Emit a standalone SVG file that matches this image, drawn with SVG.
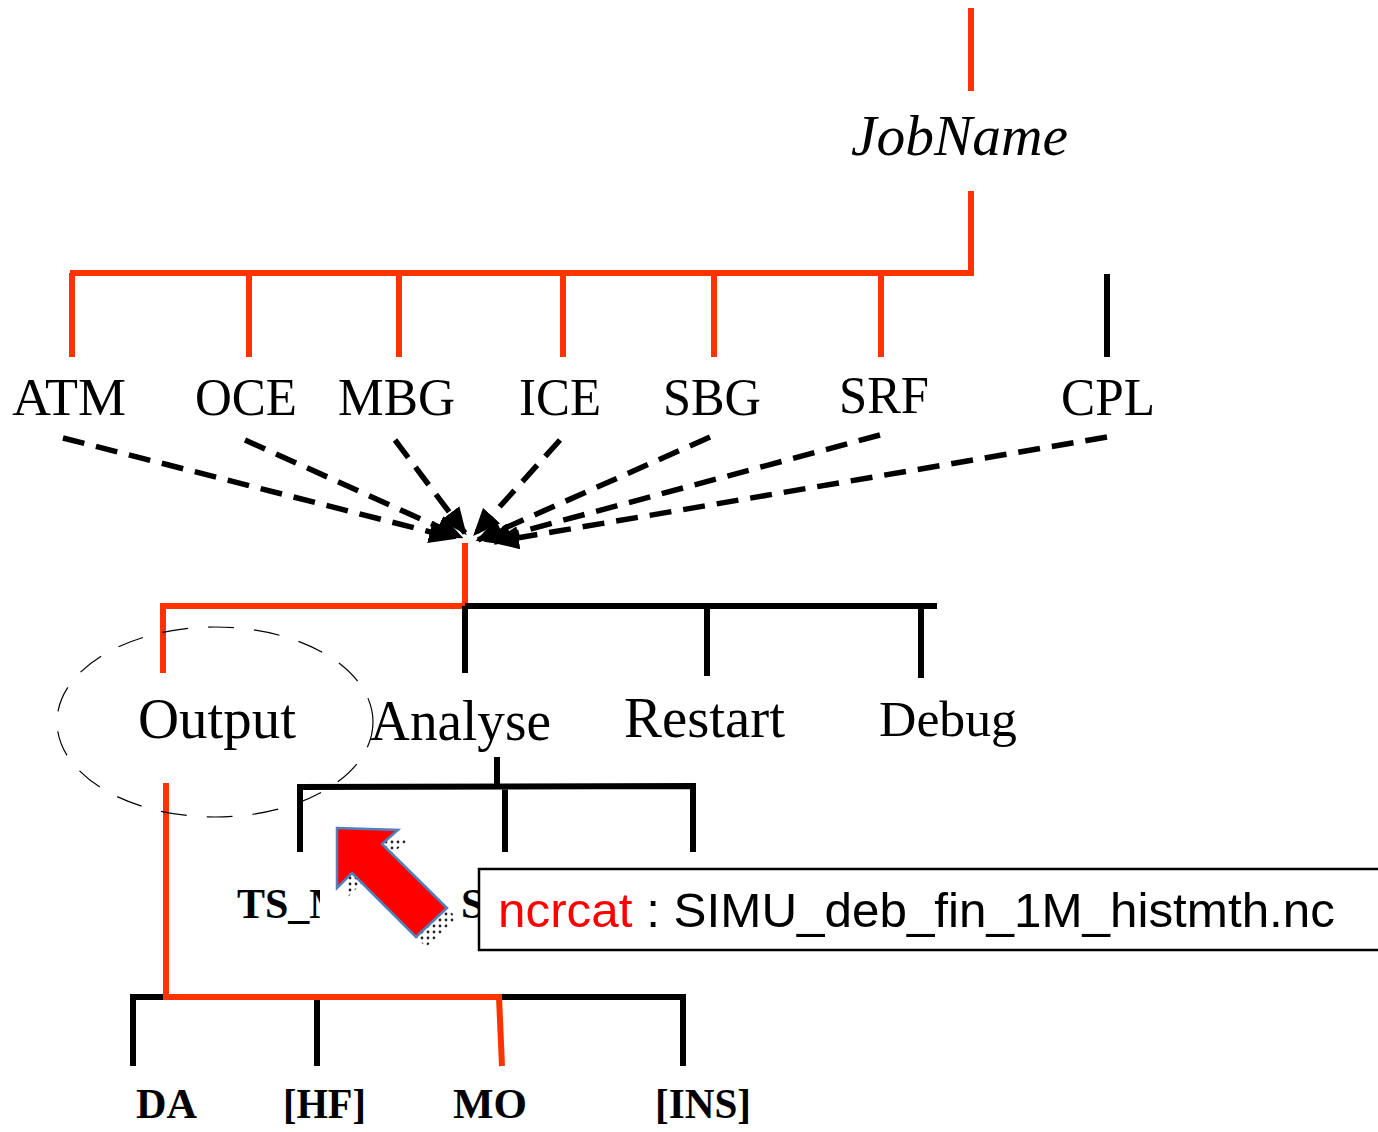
<svg xmlns="http://www.w3.org/2000/svg" width="1378" height="1132" viewBox="0 0 1378 1132">
<style>
.r{stroke:#FF3300;stroke-width:6;fill:none;stroke-linecap:butt}
.k{stroke:#000;stroke-width:6;fill:none}
.d{stroke:#000;stroke-width:5.5;fill:none;stroke-dasharray:22 12}
.t{font-family:"Liberation Serif","Times New Roman",serif;fill:#000}
.b{font-family:"Liberation Serif","Times New Roman",serif;font-weight:bold;font-size:42px;fill:#000}
</style>
<defs>
<marker id="ah" viewBox="0 0 10 10" refX="9" refY="5" markerWidth="5" markerHeight="4.2" orient="auto" markerUnits="strokeWidth" preserveAspectRatio="none">
<path d="M0,0 L10,5 L0,10 z" fill="#000"/>
</marker>
<pattern id="dots" width="6" height="6" patternUnits="userSpaceOnUse">
<circle cx="2" cy="2" r="1.4" fill="#222"/>
</pattern>
<clipPath id="tsclip"><rect x="200" y="870" width="120" height="70"/></clipPath>
</defs>
<rect width="1378" height="1132" fill="#fff"/>

<g id="connectors">
<path class="r" d="M971,8 V91"/>
<path class="r" d="M971,191 V273 H70"/>
<path class="r" d="M72,273 V357 M249,273 V357 M399,273 V357 M563,273 V357 M714,273 V357 M881,273 V357"/>
<path class="k" d="M1107,274 V357"/>
<path class="d" d="M63,438 L454,538" marker-end="url(#ah)"/>
<path class="d" d="M245,440 L461,537" marker-end="url(#ah)"/>
<path class="d" d="M395,440 L465,533" marker-end="url(#ah)"/>
<path class="d" d="M560,440 L475,534" marker-end="url(#ah)"/>
<path class="d" d="M710,437 L478,540" marker-end="url(#ah)"/>
<path class="d" d="M880,435 L486,541" marker-end="url(#ah)"/>
<path class="d" d="M1107,437 L494,542" marker-end="url(#ah)"/>
<path class="r" d="M465,543 V606 H163 V673"/>
<path class="k" d="M465,606 H937 M465,606 V673 M707,606 V676 M921,606 V678"/>
<path class="k" d="M497,757 V786 M300,852 V787 L693,786 V852 M505,786 V852"/>
<path class="k" d="M133,1066 V997 H166 M499,997 H683 V1066 M317,999 V1066"/>
<path class="r" d="M166,783 V997 H499 L502,1066"/>
</g>

<g id="n-jobname"><text class="t" x="851" y="155" font-size="56" font-style="italic" textLength="217" lengthAdjust="spacingAndGlyphs">JobName</text></g>
<g id="n-atm"><text class="t" x="12" y="415" font-size="52" textLength="114" lengthAdjust="spacingAndGlyphs">ATM</text></g>
<g id="n-oce"><text class="t" x="195" y="415" font-size="52" textLength="102" lengthAdjust="spacingAndGlyphs">OCE</text></g>
<g id="n-mbg"><text class="t" x="338" y="415" font-size="52" textLength="117" lengthAdjust="spacingAndGlyphs">MBG</text></g>
<g id="n-ice"><text class="t" x="519" y="415" font-size="52" textLength="82" lengthAdjust="spacingAndGlyphs">ICE</text></g>
<g id="n-sbg"><text class="t" x="663" y="415" font-size="52" textLength="98" lengthAdjust="spacingAndGlyphs">SBG</text></g>
<g id="n-srf"><text class="t" x="839" y="413" font-size="52" textLength="90" lengthAdjust="spacingAndGlyphs">SRF</text></g>
<g id="n-cpl"><text class="t" x="1061" y="415" font-size="52" textLength="94" lengthAdjust="spacingAndGlyphs">CPL</text></g>

<g id="n-output">
<ellipse cx="215" cy="722" rx="158" ry="95" fill="none" stroke="#000" stroke-width="1.2" stroke-dasharray="26 20"/>
<text class="t" x="138" y="738" font-size="56" textLength="158" lengthAdjust="spacingAndGlyphs">Output</text>
</g>
<g id="n-analyse"><text class="t" x="370" y="740" font-size="56" textLength="181" lengthAdjust="spacingAndGlyphs">Analyse</text></g>
<g id="n-restart"><text class="t" x="624" y="737" font-size="56" textLength="161" lengthAdjust="spacingAndGlyphs">Restart</text></g>
<g id="n-debug"><text class="t" x="879" y="736" font-size="51" textLength="138" lengthAdjust="spacingAndGlyphs">Debug</text></g>

<g id="n-ts"><text class="b" x="237" y="918" clip-path="url(#tsclip)">TS_M</text></g>
<g id="n-se"><text class="b" x="461" y="918">S</text></g>

<g id="n-da"><text class="b" x="136" y="1118" textLength="61" lengthAdjust="spacingAndGlyphs">DA</text></g>
<g id="n-hf"><text class="b" x="283" y="1118" textLength="83" lengthAdjust="spacingAndGlyphs">[HF]</text></g>
<g id="n-mo"><text class="b" x="453" y="1118" textLength="74" lengthAdjust="spacingAndGlyphs">MO</text></g>
<g id="n-ins"><text class="b" x="655" y="1118" textLength="96" lengthAdjust="spacingAndGlyphs">[INS]</text></g>

<g id="n-arrow">
<polygon points="347,838 408,840 392,854 457,918 426,947 362,883 347,898" fill="url(#dots)"/>
<polygon points="337,828 398,830 382,844 447,908 416,937 352,873 337,888" fill="#FF0000" stroke="#4F81BD" stroke-width="2.5" stroke-linejoin="miter"/>
</g>

<g id="n-ncrcat">
<rect x="479" y="869" width="905" height="81" fill="#fff" stroke="#000" stroke-width="2.5"/>
<text x="498" y="927" font-family="'Liberation Sans',Arial,sans-serif" font-size="48" textLength="837" lengthAdjust="spacingAndGlyphs"><tspan fill="#FF0000">ncrcat</tspan><tspan fill="#000"> : SIMU_deb_fin_1M_histmth.nc</tspan></text>
</g>
</svg>
